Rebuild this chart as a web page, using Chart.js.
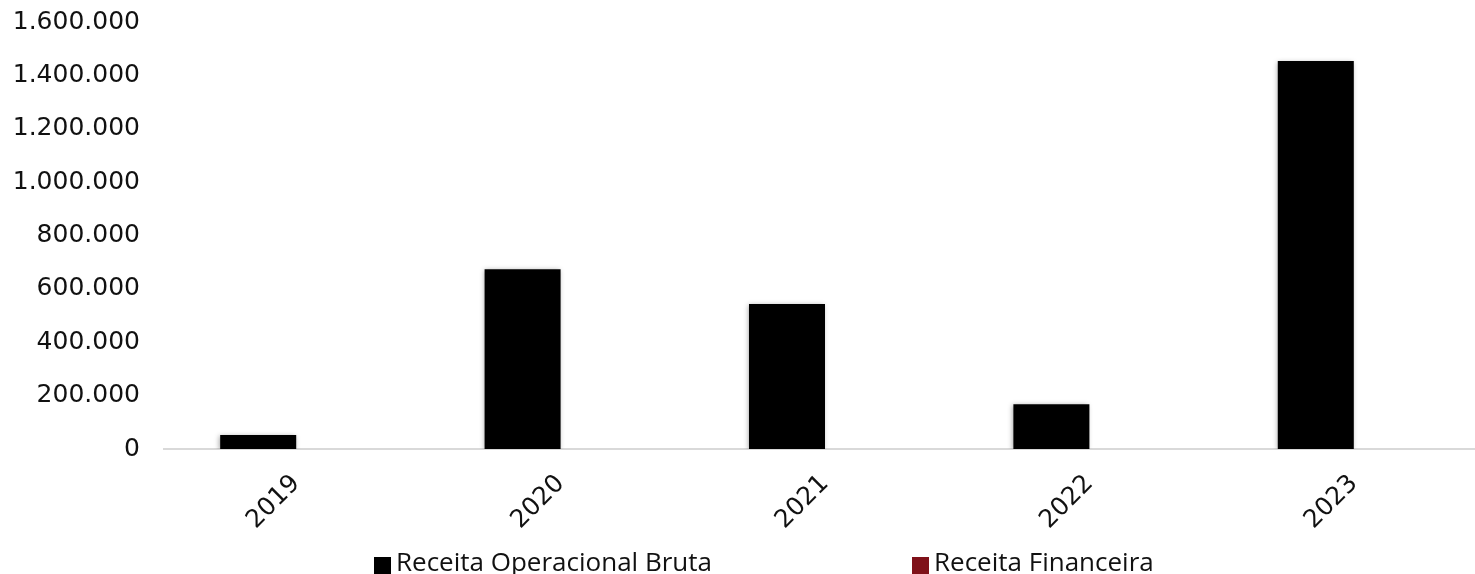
<!DOCTYPE html>
<html>
<head>
<meta charset="utf-8">
<script src="https://cdn.jsdelivr.net/npm/chart.js@4.4.1/dist/chart.umd.min.js"></script>
<style>
  html, body { margin: 0; padding: 0; background: #fff; overflow: hidden; }
  .wrap { position: relative; width: 1487px; height: 574px; }
  #legend {
    position: absolute; left: 374px; top: 548px;
    display: flex; gap: 200px; align-items: flex-start;
    font-family: 'Open Sans', sans-serif; font-size: 26px; line-height: 1; color: #111;
    white-space: nowrap;
  }
  #legend .item { display: flex; align-items: flex-start; }
  #legend .box { width: 17px; height: 17px; margin-top: 9px; margin-right: 5px; }
</style>
</head>
<body>
<div class="wrap">
  <canvas id="chartReceita"></canvas>
  <div id="legend"></div>
</div>
<script>
const ANOS = ['2019', '2020', '2021', '2022', '2023'];
const RECEITA_OPERACIONAL = [52000, 674000, 543000, 168000, 1454000];
const RECEITA_FINANCEIRA = [0, 0, 0, 0, 0];
const SERIES = ['Receita Operacional Bruta', 'Receita Financeira'];
const CORES = ['#000000', '#7f1119'];
const Y_MAX = 1600000;
const Y_STEP = 200000;

function fmtMil(v) {
  return String(Math.round(v)).replace(/\B(?=(\d{3})+(?!\d))/g, '.');
}

// sombra suave nas barras, como no original
const barShadow = {
  id: 'barShadow',
  beforeDatasetsDraw(chart) {
    const c = chart.ctx;
    c.save();
    c.shadowColor = 'rgba(0,0,0,0.35)';
    c.shadowBlur = 5;
    c.shadowOffsetX = -1;
    c.shadowOffsetY = 1;
  },
  afterDatasetsDraw(chart) {
    chart.ctx.restore();
  }
};

function buildLegend() {
  const el = document.getElementById('legend');
  SERIES.forEach((s, i) => {
    const item = document.createElement('div');
    item.className = 'item';
    item.innerHTML = `<span class="box" style="background:${CORES[i]}"></span><span>${s}</span>`;
    el.appendChild(item);
  });
}

function buildChart() {
  const tickFont = { family: "'DejaVu Sans', sans-serif", size: 25 };
  const ctx = document.getElementById('chartReceita').getContext('2d');
  new Chart(ctx, {
    type: 'bar',
    data: {
      labels: ANOS,
      datasets: [
        { label: SERIES[0], data: RECEITA_OPERACIONAL, backgroundColor: CORES[0] },
        { label: SERIES[1], data: RECEITA_FINANCEIRA, backgroundColor: CORES[1] }
      ]
    },
    options: {
      responsive: true,
      maintainAspectRatio: false,
      animation: false,
      datasets: { bar: { categoryPercentage: 0.575, barPercentage: 1 } },
      layout: { padding: { top: 22, right: 1, left: 0, bottom: 0 } },
      plugins: { legend: { display: false }, tooltip: { enabled: false } },
      scales: {
        x: {
          grid: { display: false, drawTicks: false },
          border: { display: true, color: '#d9d9d9', width: 2 },
          ticks: { color: '#111', font: tickFont, minRotation: 45, maxRotation: 45, padding: 20 },
          afterFit(scale) { scale.height = 125; scale.paddingTop = 0; }
        },
        y: {
          min: 0, max: Y_MAX,
          grid: { display: false, drawTicks: false },
          border: { display: false },
          ticks: { stepSize: Y_STEP, color: '#111', font: tickFont, padding: 24, callback: v => fmtMil(v) },
          afterFit(scale) { scale.width = 164; scale.paddingTop = 0; scale.paddingBottom = 0; }
        }
      }
    },
    plugins: [barShadow]
  });
}

buildLegend();
buildChart();
</script>
</body>
</html>
